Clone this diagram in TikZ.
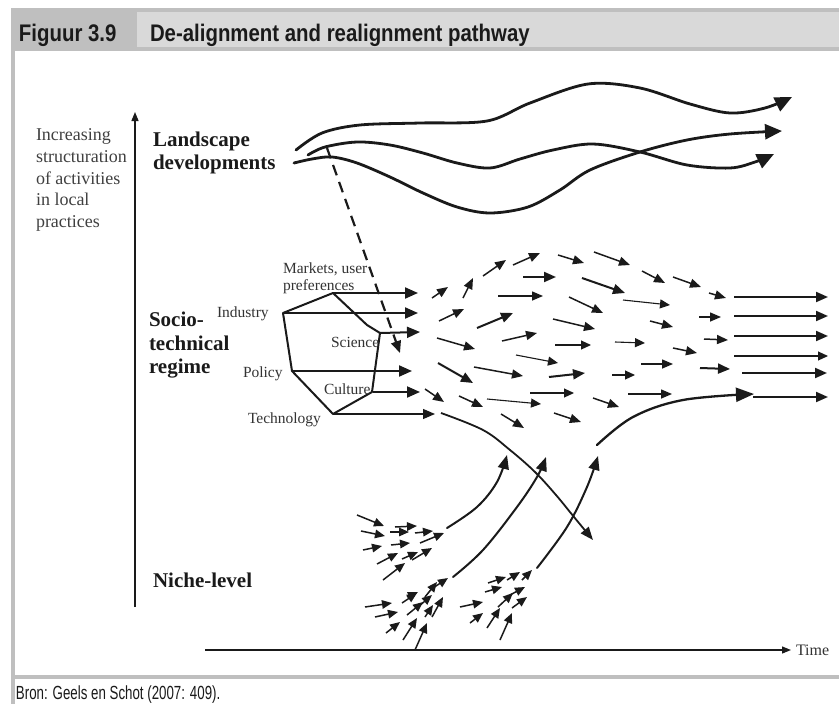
\documentclass[tikz,border=0pt]{standalone}
\usepackage{fontspec}
\setmainfont{Liberation Serif}
\newfontfamily\headfont[FakeStretch=0.85]{Liberation Sans}
\newfontfamily\footfont[FakeStretch=0.70]{Liberation Sans}
\usetikzlibrary{arrows.meta}

\definecolor{framegray}{HTML}{BFBFBF}
\definecolor{headlight}{HTML}{D9D9D9}
\definecolor{ink}{HTML}{1A1A1A}

\tikzset{
  every node/.style={inner sep=0pt, outer sep=0pt, text=ink},
  headtxt/.style={anchor=base west, font=\headfont\bfseries\fontsize{24}{27}\selectfont},
  foottxt/.style={anchor=base west, font=\footfont\fontsize{19}{22}\selectfont},
  axislbl/.style={anchor=base west, font=\fontsize{18}{21}\selectfont, text=black!75},
  levellbl/.style={anchor=base west, font=\bfseries\fontsize{21}{24}\selectfont},
  dimlbl/.style={anchor=base west, font=\fontsize{15.5}{18}\selectfont, text=black!80},
  axisline/.style={draw=ink, line width=1.4pt, -{Triangle[length=9pt,width=7pt]}},
  landcurve/.style={draw=ink, line width=2.8pt, line cap=round, -{Triangle[length=17pt,width=15pt]}},
  regarrow/.style={draw=ink, line width=2pt, -{Triangle[length=13pt,width=11pt]}},
  regthin/.style={draw=ink, line width=1.3pt, -{Triangle[length=12pt,width=10pt]}},
  fk/.style={draw=ink, line width=2pt, -{Triangle[length=12pt,width=10pt]}},
  fm/.style={draw=ink, line width=1.5pt, -{Triangle[length=11pt,width=9pt]}},
  ft/.style={draw=ink, line width=1.1pt, -{Triangle[length=10pt,width=9pt]}},
  nicharrow/.style={draw=ink, line width=1.5pt, -{Triangle[length=10pt,width=8.5pt]}},
  nichecurve/.style={draw=ink, line width=2pt, line cap=round, -{Triangle[length=14pt,width=11pt]}},
}

\begin{document}
\begin{tikzpicture}[x=1pt,y=-1pt]
\useasboundingbox (0,0) rectangle (839,704);
\fill[white] (0,0) rectangle (839,704);

% ---------- frame and header ----------
\fill[framegray] (11,8) rectangle (839,12);
\fill[framegray] (11,12) rectangle (137,47);
\fill[headlight] (137,12) rectangle (839,47);
\fill[framegray] (11,47) rectangle (839,51);
\fill[framegray] (11,51) rectangle (15,704);
\fill[framegray] (11,675) rectangle (839,679);

\node[headtxt] (fignum) at (19,41.5) {Figuur 3.9};
\node[headtxt] (figtitle) at (150,41.5) {De-alignment and realignment pathway};
\node[foottxt] (source) at (16,699.5) {Bron: Geels en Schot (2007: 409).};

% ---------- axes ----------
\coordinate (ybot) at (135,607);
\coordinate (ytop) at (135,112);
\draw[axisline] (ybot) -- (ytop);
\coordinate (tstart) at (205,650);
\coordinate (tend) at (791,650);
\draw[axisline, line width=1.2pt] (tstart) -- (tend);
\node[anchor=base west, font=\fontsize{16}{18}\selectfont, text=black!80] (time) at (796,655) {Time};

\node[axislbl] (ax1) at (36,140.5) {Increasing};
\node[axislbl] (ax2) at (36,162) {structuration};
\node[axislbl] (ax3) at (36,184) {of activities};
\node[axislbl] (ax4) at (36,205.5) {in local};
\node[axislbl] (ax5) at (36,227) {practices};

% ---------- level labels ----------
\node[levellbl] (land1) at (153,146) {Landscape};
\node[levellbl] (land2) at (153,169) {developments};
\node[levellbl] (soc1) at (149,326) {Socio-};
\node[levellbl] (soc2) at (149,350) {technical};
\node[levellbl] (soc3) at (149,373) {regime};
\node[levellbl] (niche) at (153,587) {Niche-level};

% ---------- landscape developments ----------
\draw[landcurve] plot[smooth, tension=0.55] coordinates {(296,150) (322,133) (360,125) (420,123) (487,121) (530,103) (588,84) (640,88) (690,104) (730,113) (765,108) (792,97)};
\draw[landcurve] plot[smooth, tension=0.55] coordinates {(308,155) (325,147) (357,142) (390,145) (423,153) (457,163) (490,168) (520,159) (553,150) (593,144) (640,152) (687,165) (730,168) (755,162) (774,154)};
\draw[landcurve] plot[smooth, tension=0.55] coordinates {(294,163) (312,159) (332,157) (357,163) (390,177) (423,193) (457,207) (490,213) (528,207) (560,190) (590,170) (640,152) (687,140) (730,134) (782,131)};

% landscape pressure on the regime
\coordinate (press0) at (327,148);
\coordinate (press1) at (400,353);
\draw[draw=ink, line width=2.2pt, dash pattern=on 11pt off 7pt, -{Triangle[length=12pt,width=10pt]}] (press0) -- (press1);

% ---------- socio-technical regime ----------
\coordinate (vMkt) at (333,293);
\coordinate (vInd) at (283,313);
\coordinate (vPol) at (292,371);
\coordinate (vTec) at (333,414);
\coordinate (vCul) at (372,392);
\coordinate (vSci) at (380,333);
\coordinate (vKnk) at (367,325);
\draw[ink, line width=2pt, line join=round] (vMkt) -- (vKnk) -- (vSci) -- (vCul) -- (vTec) -- (vPol) -- (vInd) -- cycle;

\node[dimlbl] (lMkt1) at (283,273) {Markets, user};
\node[dimlbl] (lMkt2) at (283,290) {preferences};
\node[dimlbl] (lInd) at (217,317) {Industry};
\node[dimlbl] (lSci) at (331,347) {Science};
\node[dimlbl] (lPol) at (243,377) {Policy};
\node[dimlbl] (lCul) at (324,394) {Culture};
\node[dimlbl] (lTec) at (248,423.5) {Technology};

\coordinate (eMkt) at (418,293);
\coordinate (eInd) at (418,313);
\coordinate (eSci) at (420,332);
\coordinate (ePol) at (412,371);
\coordinate (sCul) at (373,392);
\coordinate (eCul) at (420,392);
\coordinate (eTec) at (435,414);
\draw[regarrow] (vMkt) -- (eMkt);
\draw[regarrow] (vInd) -- (eInd);
\draw[regarrow] (vSci) -- (eSci);
\draw[regarrow] (vPol) -- (ePol);
\draw[regarrow] (sCul) -- (eCul);
\draw[regthin] (vTec) -- (eTec);

% ---------- de-aligned regime: scattered arrows ----------
\foreach \xa/\ya/\xb/\yb in {523/277/556/277, 582/278/625/293, 734/297/828/297, 477/328/513/313,
  734/316/828/316, 734/336/828/336, 438/363/473/383, 549/377/585/373, 742/373/827/373,
  753/397/828/397, 700/368/730/369}
  \draw[fk] (\xa,\ya) -- (\xb,\yb);
\foreach \xa/\ya/\xb/\yb in {432/298/448/287, 463/298/473/278, 483/276/506/260, 513/265/540/253,
  558/255/584/263, 594/252/630/265, 642/271/665/283, 673/277/701/287, 709/293/726/298,
  439/321/464/309, 569/297/603/313, 699/317/721/317, 437/338/475/349, 502/341/537/333,
  553/319/595/329, 650/321/673/327, 704/339/728/340, 673/348/697/353, 474/367/523/376,
  641/364/673/364, 425/389/444/402, 459/396/483/407, 593/398/619/407, 628/394/672/394,
  501/414/524/428, 554/413/581/422, 498/296/543/296}
  \draw[fm] (\xa,\ya) -- (\xb,\yb);
\foreach \xa/\ya/\xb/\yb in {623/300/670/305, 555/345/591/345, 615/342/645/343, 734/356/828/356,
  516/355/558/363, 612/375/635/375, 487/399/541/404, 530/393/574/393}
  \draw[ft] (\xa,\ya) -- (\xb,\yb);

% old technology pushed out of the regime
\draw[draw=ink, line width=1.8pt, -{Triangle[length=13pt,width=10pt]}] plot[smooth, tension=0.6] coordinates {(441,413) (483,430) (510,450) (535,472) (556,495) (574,517) (593,540)};

% new configuration entering the regime
\draw[draw=ink, line width=2.3pt, line cap=round, -{Triangle[length=18pt,width=14pt]}] plot[smooth, tension=0.6] coordinates {(597,445) (633,417) (683,400) (754,394)};

% ---------- niche-level ----------
\draw[nichecurve] plot[smooth, tension=0.6] coordinates {(447,528) (477,507) (497,482) (507,455)};
\draw[nichecurve] plot[smooth, tension=0.6] coordinates {(453,577) (483,550) (517,507) (537,477) (546,457)};
\draw[nichecurve] plot[smooth, tension=0.6] coordinates {(537,568) (567,527) (587,487) (598,456)};

\foreach \xa/\ya/\xb/\yb in {
  % first niche
  357/515/384/526, 361/531/385/536, 363/550/382/546, 395/527/417/526, 390/532/409/532,
  415/533/433/531, 391/545/410/543, 377/564/398/553, 402/559/418/552, 412/560/432/548,
  420/543/444/533, 383/580/405/563,
  % second niche
  365/607/392/603, 375/617/398/612, 386/633/400/622, 403/640/417/618, 415/650/427/623,
  407/615/423/602, 402/603/417/593, 407/597/418/592, 418/607/432/595, 425/597/437/582,
  433/588/448/578, 425/617/433/605, 432/617/443/597,
  % third niche
  460/607/483/602, 470/623/483/613, 485/592/502/587, 488/583/506/577, 487/628/500/608,
  500/640/512/613, 498/607/513/593, 507/580/520/572, 510/595/525/587, 512/608/527/597,
  522/580/532/570}
  \draw[nicharrow] (\xa,\ya) -- (\xb,\yb);

\end{tikzpicture}
\end{document}
